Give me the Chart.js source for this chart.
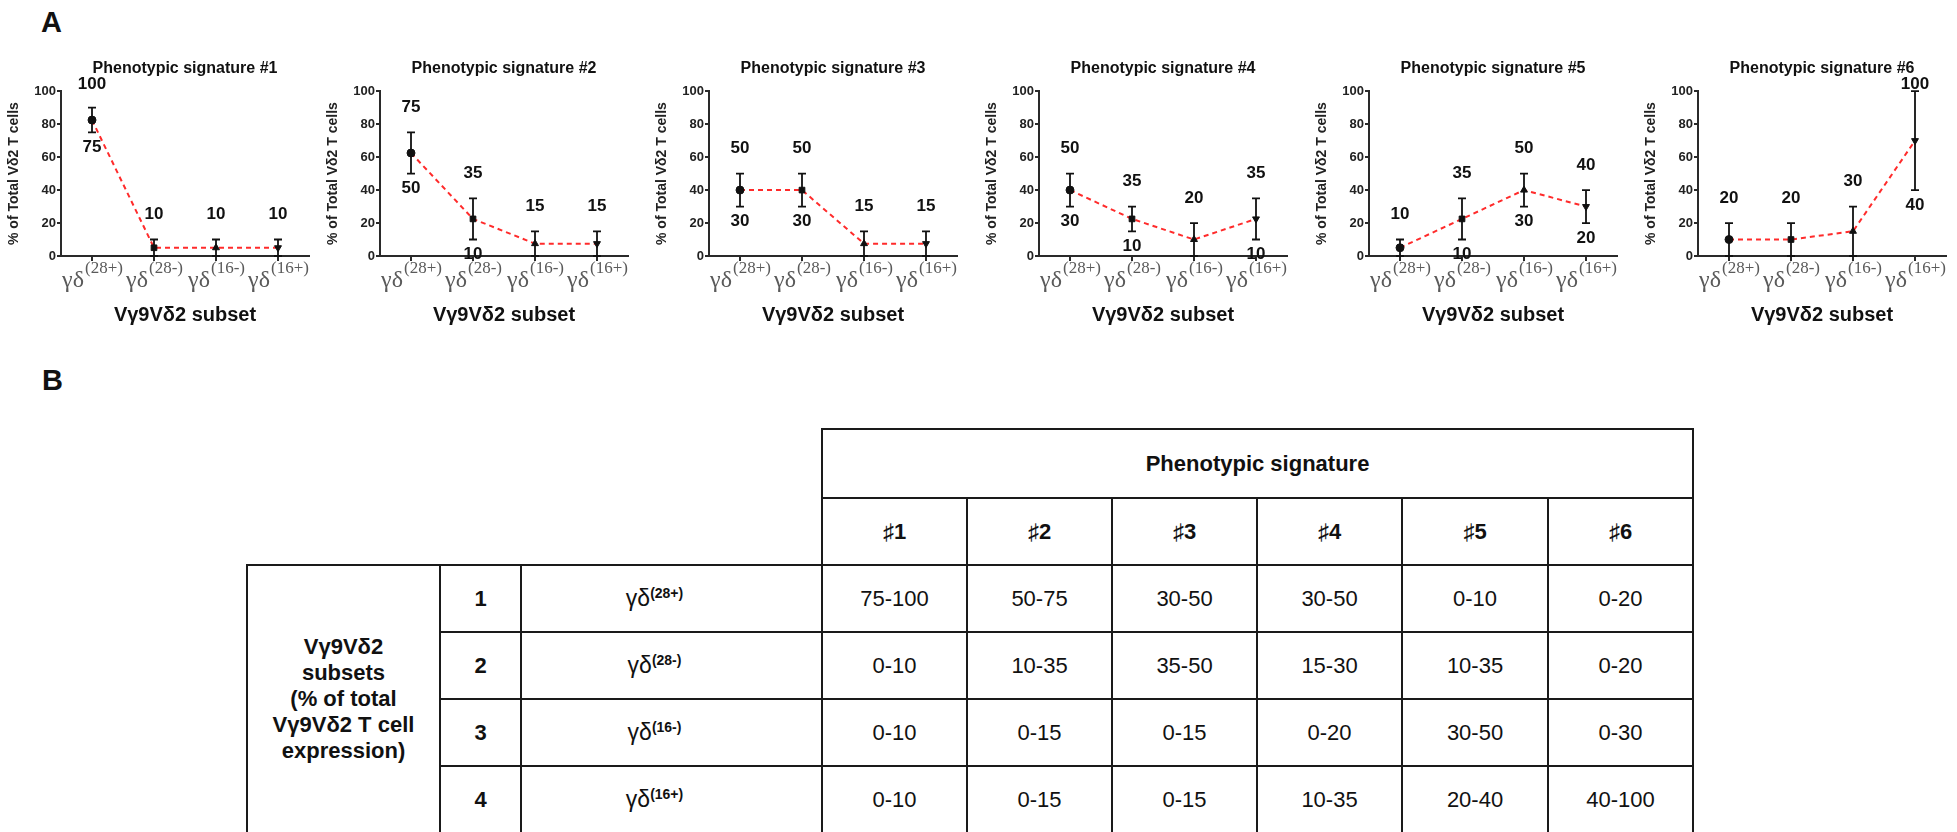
<!DOCTYPE html>
<html>
<head>
<meta charset="utf-8">
<script src="https://cdn.jsdelivr.net/npm/chart.js@4.4.0/dist/chart.umd.min.js"></script>
<style>
  body { margin: 0; width: 1957px; height: 832px; overflow: hidden; background: #fff;
         position: relative; font-family: 'Liberation Sans', Arial, sans-serif; color: #111; }
  .panel { position: absolute; font-weight: bold; font-size: 29px; line-height: 1; }
  .box { position: absolute; top: 50px; width: 318px; height: 286px; }
  table { position: absolute; left: 246px; top: 428px; border-collapse: collapse; table-layout: fixed; width: 1446px; }
  td { border: 2px solid #1a1a1a; text-align: center; vertical-align: middle; font-size: 22px; padding: 0; }
  td.empty { border: none; }
  td.b { font-weight: bold; }
  td.side { font-weight: bold; line-height: 26px; }
  td.sub { font-size: 23px; padding-right: 34px; }
  td.sub sup { font-size: 14px; font-weight: bold; vertical-align: 8px; }
</style>
</head>
<body>
<div class="panel" style="left:41px;top:8px">A</div>
<div class="panel" style="left:42px;top:366px">B</div>
<div id="charts"></div>
<table id="tbl"></table>
<script>
// categories on the x axis of every panel (base + superscript part)
const subsetBase = ['γδ', 'γδ', 'γδ', 'γδ'];
const subsetSups = ['(28+)', '(28-)', '(16-)', '(16+)'];
const signatureTitles = ['Phenotypic signature #1', 'Phenotypic signature #2', 'Phenotypic signature #3',
                         'Phenotypic signature #4', 'Phenotypic signature #5', 'Phenotypic signature #6'];
const yTicks = [0, 20, 40, 60, 80, 100];

// point values, one row per signature
const meanValues = [
  [82.5, 5, 5, 5],
  [62.5, 22.5, 7.5, 7.5],
  [40, 40, 7.5, 7.5],
  [40, 22.5, 10, 22.5],
  [5, 22.5, 40, 30],
  [10, 10, 15, 70]
];
// error bar ends
const lowValues = [
  [75, 0, 0, 0],
  [50, 10, 0, 0],
  [30, 30, 0, 0],
  [30, 15, 0, 10],
  [0, 10, 30, 20],
  [0, 0, 0, 40]
];
const highValues = [
  [90, 10, 10, 10],
  [75, 35, 15, 15],
  [50, 50, 15, 15],
  [50, 30, 20, 35],
  [10, 35, 50, 40],
  [20, 20, 30, 100]
];
// numbers written above / below each bar
const upperNotes = [
  ['100', '10', '10', '10'],
  ['75', '35', '15', '15'],
  ['50', '50', '15', '15'],
  ['50', '35', '20', '35'],
  ['10', '35', '50', '40'],
  ['20', '20', '30', '100']
];
const lowerNotes = [
  ['75', '', '', ''],
  ['50', '10', '', ''],
  ['30', '30', '', ''],
  ['30', '10', '', '10'],
  ['', '10', '30', '20'],
  ['', '', '', '40']
];

// table B
const signatureHeaders = ['♯1', '♯2', '♯3', '♯4', '♯5', '♯6'];
const subsetNumbers = ['1', '2', '3', '4'];
const rangeTable = [
  ['75-100', '50-75', '30-50', '30-50', '0-10', '0-20'],
  ['0-10', '10-35', '35-50', '15-30', '10-35', '0-20'],
  ['0-10', '0-15', '0-15', '0-20', '30-50', '0-30'],
  ['0-10', '0-15', '0-15', '10-35', '20-40', '40-100']
];

const plotLefts = [61, 380, 709, 1039, 1369, 1698];
const axisColor = '#2a2a2a';
const SANS = '"Liberation Sans", Arial, sans-serif';
const SERIF = '"Liberation Serif", "DejaVu Serif", serif';

const errorBars = {
  id: 'errorBars',
  afterDatasetsDraw(chart, args, opts) {
    const {ctx, scales: {x, y}} = chart;
    ctx.save();
    ctx.strokeStyle = '#111';
    ctx.lineWidth = 1.8;
    opts.low.forEach((lo, i) => {
      const px = x.getPixelForValue(i);
      const y1 = y.getPixelForValue(lo);
      const y2 = y.getPixelForValue(opts.high[i]);
      ctx.beginPath();
      ctx.moveTo(px, y1); ctx.lineTo(px, y2);
      ctx.moveTo(px - 4, y1); ctx.lineTo(px + 4, y1);
      ctx.moveTo(px - 4, y2); ctx.lineTo(px + 4, y2);
      ctx.stroke();
    });
    ctx.restore();
  }
};

const rangeNotes = {
  id: 'rangeNotes',
  afterDraw(chart, args, opts) {
    const {ctx, chartArea, scales: {x, y}} = chart;
    ctx.save();
    ctx.font = 'bold 17px ' + SANS;
    ctx.fillStyle = '#111';
    ctx.textAlign = 'center';
    ctx.textBaseline = 'middle';
    opts.upper.forEach((t, i) => {
      const px = x.getPixelForValue(i);
      if (t) {
        const py = Math.max(y.getPixelForValue(opts.high[i]) - 25, chartArea.top - 7);
        ctx.fillText(t, px, py);
      }
      const b = opts.lower[i];
      if (b) ctx.fillText(b, px, y.getPixelForValue(opts.low[i]) + 15);
    });
    ctx.restore();
  }
};

// x tick labels with a real superscript
const supLabels = {
  id: 'supLabels',
  afterDraw(chart) {
    const {ctx, chartArea, scales: {x}} = chart;
    ctx.save();
    ctx.fillStyle = '#5a5a5a';
    ctx.textBaseline = 'alphabetic';
    ctx.textAlign = 'left';
    subsetBase.forEach((base, i) => {
      const px = x.getPixelForValue(i);
      ctx.font = '24px ' + SERIF;
      const w1 = ctx.measureText(base).width;
      ctx.font = '17px ' + SERIF;
      const w2 = ctx.measureText(subsetSups[i]).width;
      const start = px - (w1 + w2) / 2;
      ctx.font = '24px ' + SERIF;
      ctx.fillText(base, start, chartArea.bottom + 31);
      ctx.font = '17px ' + SERIF;
      ctx.fillText(subsetSups[i], start + w1 + 1, chartArea.bottom + 17);
    });
    ctx.restore();
  }
};

const holder = document.getElementById('charts');
signatureTitles.forEach((title, k) => {
  const div = document.createElement('div');
  div.className = 'box';
  div.style.left = (plotLefts[k] - 60) + 'px';
  const cv = document.createElement('canvas');
  cv.width = 318; cv.height = 286;
  div.appendChild(cv);
  holder.appendChild(div);

  new Chart(cv.getContext('2d'), {
    type: 'line',
    data: {
      labels: subsetBase.map((b, i) => b + subsetSups[i]),
      datasets: [{
        data: meanValues[k],
        borderColor: '#ff2b2b',
        borderWidth: 2,
        borderDash: [5, 4],
        tension: 0,
        pointStyle: ['circle', 'rect', 'triangle', 'triangle'],
        pointRotation: [0, 0, 0, 180],
        pointRadius: 4,
        pointBackgroundColor: '#111',
        pointBorderColor: '#111',
        pointBorderWidth: 1
      }]
    },
    options: {
      responsive: false,
      animation: false,
      devicePixelRatio: 1,
      layout: { padding: { left: 0, right: 10, top: 0, bottom: 0 } },
      scales: {
        x: {
          offset: true,
          afterFit(s) { s.height = 80; },
          border: { display: true, color: axisColor, width: 2 },
          grid: { drawOnChartArea: false, color: axisColor, lineWidth: 2, tickLength: 5, offset: false },
          ticks: {
            autoSkip: false, maxRotation: 0, minRotation: 0, padding: 0,
            color: 'rgba(0,0,0,0)',
            font: { family: SERIF, size: 20 }
          },
          title: {
            display: true, text: 'Vγ9Vδ2 subset', color: '#111',
            font: { size: 20, weight: 'bold', family: SANS },
            padding: { top: 0, bottom: 9 }
          }
        },
        y: {
          min: yTicks[0],
          max: yTicks[yTicks.length - 1],
          afterBuildTicks(s) { s.ticks = yTicks.map(v => ({ value: v })); },
          afterFit(s) { s.width = 60; },
          border: { display: true, color: axisColor, width: 2 },
          grid: { drawOnChartArea: false, color: axisColor, lineWidth: 2, tickLength: 4 },
          ticks: {
            padding: 1, color: '#222',
            font: { size: 13, weight: 'bold', family: SANS }
          },
          title: {
            display: true, text: '% of Total Vδ2 T cells', color: '#222',
            font: { size: 14, weight: 'bold', family: SANS },
            padding: { top: 5, bottom: 0 }
          }
        }
      },
      plugins: {
        legend: { display: false },
        tooltip: { enabled: false },
        title: {
          display: true, text: title, color: '#111', fullSize: false,
          font: { size: 16, weight: 'bold', family: SANS },
          padding: { top: 9, bottom: 13 }
        },
        errorBars: { low: lowValues[k], high: highValues[k] },
        rangeNotes: { upper: upperNotes[k], lower: lowerNotes[k], low: lowValues[k], high: highValues[k] }
      }
    },
    plugins: [errorBars, rangeNotes, supLabels]
  });
});

// table B
const colWidths = [193, 81, 301, 145, 145, 145, 145, 146, 145];
let html = '<colgroup>' + colWidths.map(w => '<col style="width:' + w + 'px">').join('') + '</colgroup>';
html += '<tr style="height:69px"><td class="empty" colspan="3" rowspan="2"></td>' +
        '<td class="b" colspan="6">Phenotypic signature</td></tr>';
html += '<tr style="height:67px">' + signatureHeaders.map(h => '<td class="b">' + h + '</td>').join('') + '</tr>';
subsetNumbers.forEach((n, r) => {
  html += '<tr style="height:67px">';
  if (r === 0) {
    html += '<td class="side" rowspan="4">Vγ9Vδ2<br>subsets<br>(% of total<br>Vγ9Vδ2 T cell<br>expression)</td>';
  }
  html += '<td class="b">' + n + '</td>';
  html += '<td class="sub">γδ<sup>' + subsetSups[r] + '</sup></td>';
  html += rangeTable[r].map(v => '<td>' + v + '</td>').join('');
  html += '</tr>';
});
document.getElementById('tbl').innerHTML = html;
</script>
</body>
</html>
